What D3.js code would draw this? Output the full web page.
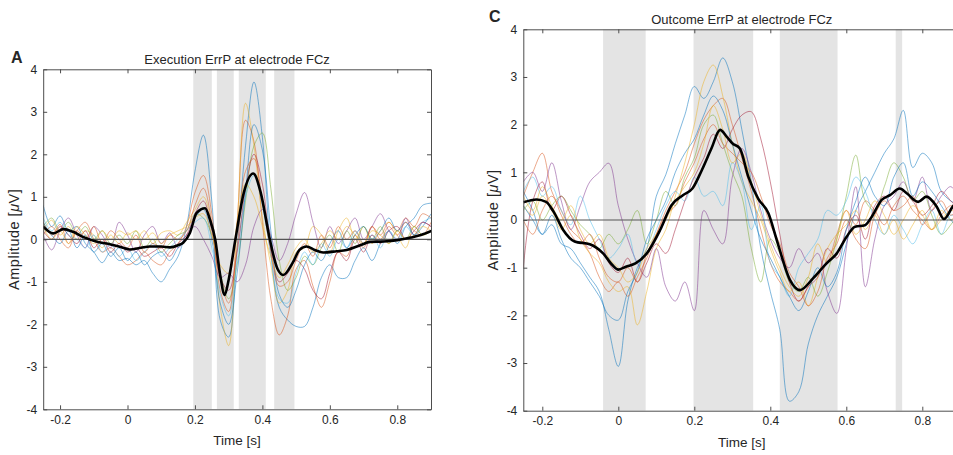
<!DOCTYPE html>
<html><head><meta charset="utf-8">
<script src="https://cdn.jsdelivr.net/npm/d3@7"></script>
<style>
body{margin:0;background:#fff}
svg{display:block}
text{font-family:"Liberation Sans",Arial,Helvetica,sans-serif;fill:#262626}
</style>
</head><body>
<svg id="chart" width="953" height="455"></svg>
<script>
// ---------------- DATA ----------------
const timeGrid = [-0.25,-0.225,-0.2,-0.175,-0.15,-0.125,-0.1,-0.075,-0.05,-0.025,
  0,0.025,0.05,0.075,0.1,0.125,0.15,0.175,0.2,0.225,
  0.25,0.275,0.3,0.325,0.35,0.375,0.4,0.425,0.45,0.475,
  0.5,0.525,0.55,0.575,0.6,0.625,0.65,0.675,0.7,0.725,
  0.75,0.775,0.8,0.825,0.85,0.875,0.9];

const xTickValues = [-0.2,0,0.2,0.4,0.6,0.8];
const xTickLabels = ["-0.2","0","0.2","0.4","0.6","0.8"];
const yTickValues = [-4,-3,-2,-1,0,1,2,3,4];
const yTickLabels = ["-4","-3","-2","-1","0","1","2","3","4"];

const subjectColors = ["#0072BD","#D95319","#EDB120","#7E2F8E","#77AC30","#4DBEEE","#A2142F","#0072BD","#D95319","#EDB120"];

const bandsA = [[0.195,0.25],[0.265,0.315],[0.33,0.41],[0.435,0.495]];
const bandsC = [[-0.04,0.072],[0.198,0.355],[0.425,0.577],[0.73,0.747]];

const meanATimes = [-0.25,-0.22,-0.19,-0.16,-0.13,-0.09,-0.05,-0.02,0.007,0.04,0.066,0.1,0.126,0.15,0.165,0.185,0.205,0.23,0.245,0.26,0.275,0.288,0.3,0.32,0.345,0.373,0.395,0.422,0.445,0.462,0.49,0.51,0.531,0.555,0.58,0.62,0.65,0.69,0.72,0.76,0.8,0.84,0.87,0.903];
const meanAValues = [0.30,0.14,0.24,0.17,0.05,-0.06,-0.12,-0.18,-0.24,-0.20,-0.17,-0.17,-0.19,-0.14,-0.08,0.15,0.62,0.73,0.45,0.0,-0.85,-1.31,-0.95,0.0,1.1,1.55,1.1,0.0,-0.7,-0.84,-0.55,-0.25,-0.17,-0.25,-0.31,-0.28,-0.25,-0.14,-0.06,-0.05,-0.02,0.04,0.1,0.2];

const meanCTimes = [-0.25,-0.215,-0.19,-0.17,-0.145,-0.115,-0.075,-0.04,-0.015,0.0,0.02,0.045,0.075,0.11,0.14,0.17,0.195,0.22,0.245,0.268,0.285,0.3,0.32,0.342,0.368,0.395,0.417,0.452,0.478,0.513,0.548,0.575,0.601,0.623,0.649,0.667,0.693,0.715,0.741,0.759,0.789,0.811,0.838,0.857,0.88,0.9];
const meanCValues = [0.37,0.43,0.38,0.17,-0.21,-0.45,-0.51,-0.70,-0.95,-1.04,-0.98,-0.91,-0.70,-0.21,0.31,0.52,0.66,1.05,1.5,1.89,1.75,1.61,1.50,0.91,0.45,0.14,-0.42,-1.26,-1.47,-1.22,-0.91,-0.70,-0.35,-0.14,-0.11,0.07,0.42,0.52,0.66,0.56,0.38,0.49,0.28,0.02,0.28,0.45];

const subjectsA = [
 [0.8,0.3,0.55,0.2,0.3,-0.1,-0.3,-0.55,-0.3,-0.5, -0.45,-0.6,-0.5,-0.8,-1.0,-0.7,-0.4,0.3,1.6,2.45, 0.9,-1.9,-2.3,-0.2,2.2,3.7,2.4,-0.3,-1.6,-1.9, -2.05,-2.05,-1.6,-0.9,-0.6,-0.9,-0.9,-0.5,-0.2,-0.5, -0.1,0.2,-0.1,0.3,0.5,0.8,0.85],
 [0.4,0.1,0.35,-0.1,0.2,0.4,0.0,-0.3,-0.2,-0.4, -0.6,-0.5,-0.3,-0.5,-0.6,-0.3,-0.1,0.3,1.1,1.5, 0.6,-1.2,-1.7,0.4,2.8,2.3,0.4,-1.4,-2.25,-1.8, -0.7,-0.5,-1.1,-1.6,-1.0,-0.3,-0.4,0.1,-0.2,0.3, 0.1,0.4,0.2,0.5,0.3,0.6,0.5],
 [0.2,0.45,0.1,0.3,0.0,0.2,0.1,-0.2,0.1,-0.1, 0.15,0.0,0.2,-0.1,0.15,0.2,0.1,0.4,0.7,1.0, 0.3,-1.6,-2.5,0.3,3.2,2.2,0.5,-0.6,-1.5,-1.2, -0.3,-0.2,0.3,0.1,-0.3,0.2,0.5,0.0,0.3,-0.1, 0.2,0.4,0.1,-0.2,0.3,0.1,0.2],
 [0.1,-0.25,0.2,0.5,0.1,-0.2,0.3,0.1,-0.2,0.4, 0.1,-0.3,0.1,0.3,-0.1,0.15,-0.2,0.1,0.3,0.0, -0.4,-0.9,-0.8,-1.0,-0.6,0.3,0.7,0.1,-0.5,-0.1, 0.6,1.1,0.4,-0.2,0.3,-0.1,0.2,0.5,0.0,0.3, 0.6,0.2,0.0,0.5,0.1,0.4,0.3],
 [0.3,0.5,0.2,0.4,0.1,0.3,0.0,0.2,-0.1,0.1, -0.1,0.2,-0.2,0.0,-0.3,-0.1,0.1,0.2,0.6,0.5, 0.1,-0.8,-1.4,-0.6,0.9,2.2,2.5,1.2,-0.5,-1.2, -0.9,-0.4,-0.6,-0.2,0.1,-0.3,0.2,-0.1,0.3,0.0, 0.3,-0.1,0.2,0.0,0.3,0.1,0.2],
 [0.5,0.2,0.4,0.1,0.0,-0.2,0.1,-0.3,-0.1,-0.4, -0.2,-0.5,-0.3,-0.1,-0.4,-0.2,0.0,0.2,0.4,0.5, -0.2,-1.3,-1.8,-0.5,1.0,1.5,0.8,-0.4,-1.4,-1.5, -0.8,-0.3,-0.6,-0.1,-0.4,0.0,-0.2,0.2,-0.1,0.1, -0.2,0.2,0.0,0.3,0.1,0.4,0.5],
 [0.2,0.0,0.3,0.1,-0.1,0.2,-0.2,0.0,-0.3,-0.1, -0.3,-0.2,-0.4,-0.3,-0.2,-0.4,-0.1,0.1,0.6,0.9, 0.2,-0.9,-1.2,-0.3,1.2,2.0,1.3,-0.2,-1.0,-0.8, -0.5,-0.7,-1.2,-1.4,-0.8,-0.3,-0.5,0.0,-0.3,0.1, -0.1,0.2,0.3,0.0,0.2,0.4,0.3],
 [0.4,0.1,-0.1,0.2,-0.2,0.1,-0.3,-0.1,-0.4,-0.2, -0.5,-0.3,-0.6,-0.4,-0.3,-0.5,-0.2,0.0,0.5,0.7, 0.0,-1.5,-2.0,-0.8,1.1,2.7,2.1,0.2,-1.3,-1.6, -1.2,-0.6,-0.3,-0.5,-0.1,0.2,-0.2,0.1,0.3,0.0, 0.2,0.5,0.2,0.4,0.1,0.3,0.6],
 [0.1,0.3,0.0,-0.2,0.2,0.0,0.3,-0.1,0.2,0.0, -0.2,0.1,-0.3,-0.1,-0.2,0.1,0.0,0.2,0.8,1.2, 0.4,-0.9,-1.5,-0.2,1.6,1.9,0.9,-0.3,-1.1,-1.0, -0.5,-0.1,-0.4,0.1,-0.2,0.3,0.0,0.2,-0.1,0.3, 0.0,0.3,0.1,0.4,0.2,0.1,0.4],
 [0.3,0.0,0.2,-0.1,0.3,0.1,-0.1,0.2,0.0,0.2, 0.1,0.2,0.0,0.15,-0.1,0.1,0.2,0.3,0.5,0.6, 0.1,-0.6,-0.8,0.4,1.3,1.0,0.3,-0.4,-0.9,-0.6, -0.2,0.0,-0.3,-0.1,0.2,0.0,0.3,0.1,-0.1,0.2, 0.1,-0.1,0.2,0.0,0.1,0.3,0.2]
];

const subjectsC = [
 [0.6,0.2,-0.3,-0.1,-0.5,-0.6,-0.9,-1.2,-1.5,-2.3, -3.07,-1.7,-1.0,-0.6,0.5,0.95,1.6,2.2,2.8,2.55, 2.9,3.4,2.9,1.9,0.8,-0.6,-1.5,-2.3,-3.8,-3.6, -2.6,-2.0,-1.6,-1.2,-0.5,0.2,0.6,1.0,1.4,1.7, 2.3,1.1,1.4,1.2,0.6,0.4,0.3],
 [0.5,1.0,1.4,0.6,0.2,-0.2,-0.4,-0.7,-1.2,-1.5, -1.3,-1.6,-1.2,-0.8,-0.3,0.2,0.6,1.0,1.6,2.1, 2.4,2.55,2.0,1.3,0.6,-0.2,-0.9,-1.3,-1.5,-1.7, -1.4,-1.1,-0.9,-0.3,0.2,-0.1,0.4,0.2,-0.1,0.3, 0.5,0.2,0.0,-0.2,0.1,0.3,0.2],
 [0.3,0.1,0.5,0.2,-0.2,0.1,-0.4,-0.7,-0.9,-1.3, -1.5,-1.4,-2.2,-1.5,-0.6,-0.2,0.5,1.2,2.0,2.9, 3.25,2.6,1.6,0.8,0.4,0.0,-0.6,-1.1,-1.5,-1.3, -1.8,-1.2,-0.6,-0.3,-0.1,0.2,-0.2,0.1,-0.3,0.0, -0.4,-0.1,0.2,-0.2,0.0,0.2,0.1],
 [0.8,1.0,0.6,1.2,0.4,-0.2,0.3,0.8,1.0,1.19, 0.3,-0.4,-0.9,-1.2,-0.6,-1.4,-1.7,-1.3,-1.9,0.2, -0.2,-0.5,0.9,1.5,1.0,0.2,-0.4,-0.8,-1.0,-0.6, -0.9,-0.7,-1.5,-1.96,-0.6,0.7,-1.4,-0.4,0.3,0.5, 0.8,0.4,0.9,0.2,0.5,0.7,0.4],
 [0.2,0.4,0.0,0.3,0.5,0.2,-0.1,-0.3,-0.6,-0.3, -0.5,-0.2,0.2,-0.5,0.0,0.6,0.3,0.9,1.3,2.0, 2.2,1.6,1.0,0.5,-0.6,-1.3,-0.4,-0.7,-1.3,-1.5, -1.2,-1.6,-1.1,-0.4,0.5,1.36,0.4,0.2,0.7,1.2, 0.9,0.4,0.6,0.1,-0.3,-0.1,0.2],
 [0.6,0.9,0.5,0.7,0.2,-0.1,0.5,0.0,-0.4,-0.8, -0.6,-0.3,-0.9,-0.7,-0.2,0.3,0.6,0.4,0.9,0.5, 0.6,0.3,1.2,0.8,-0.2,0.3,-0.9,-1.2,-1.6,-1.0, -0.7,-0.4,0.2,0.1,0.4,0.9,0.6,0.0,-0.3,0.1, -0.2,-0.5,-0.1,0.2,-0.3,0.1,0.0],
 [-1.0,0.4,0.8,0.2,0.5,0.1,-0.3,-0.6,-0.4,-0.9, -1.1,-0.8,-1.3,-0.9,-0.5,-0.7,-0.2,0.4,0.9,1.3, 1.8,1.5,1.9,2.2,2.27,1.7,0.8,-0.3,-1.3,-1.7, -1.4,-1.2,-0.6,-0.8,-0.2,0.1,-0.4,0.3,0.5,0.2, 0.6,0.4,0.1,0.3,0.6,0.4,0.2],
 [0.3,0.0,-0.3,0.1,-0.4,-0.8,-1.0,-1.3,-1.6,-2.0, -2.1,-1.5,-1.1,-0.4,0.0,0.4,1.0,1.4,1.7,2.2, 2.6,2.3,1.6,0.9,0.2,-0.4,-0.8,-1.2,-1.6,-1.9, -1.5,-1.0,-1.4,-1.1,-0.2,0.4,0.9,0.5,0.3,0.9, 1.2,0.5,0.8,0.6,0.3,0.0,-0.2],
 [0.0,-0.3,0.2,0.5,0.1,-0.3,-0.5,-0.3,-0.8,-1.2, -1.3,-1.0,-1.3,-0.7,-0.3,0.1,0.3,0.8,1.2,1.7, 2.0,1.6,1.4,1.2,1.0,0.5,-0.1,-0.5,-1.1,-1.4, -1.8,-1.5,-0.8,-0.5,0.0,-0.4,-0.6,0.1,0.4,0.2, 0.3,0.5,-0.1,0.2,0.4,0.1,0.3],
 [0.5,0.2,0.7,0.3,0.0,0.3,-0.2,-0.5,-0.3,-0.8, -1.0,-1.3,-1.1,-0.6,-0.3,0.0,0.4,0.7,1.0,1.6, 2.4,1.9,1.2,1.4,0.8,0.1,-0.5,-1.0,-1.4,-1.6, -1.2,-0.5,-0.9,-0.4,0.2,-0.3,0.0,0.4,0.1,-0.3, 0.0,0.3,0.1,-0.2,0.2,0.0,0.3]
];

// ---------------- DRAW ----------------
const svg = d3.select("#chart");
svg.append("rect").attr("width",953).attr("height",455).attr("fill","#fff");

const panels = [
  {id:"A", letter:"A", title:"Execution ErrP at electrode FCz", left:43.2, right:431, top:69.3, bottom:409.3,
   bands:bandsA, subjects:subjectsA, meanT:meanATimes, meanV:meanAValues, letterX:11, letterY:63, ylabX:19},
  {id:"C", letter:"C", title:"Outcome ErrP at electrode FCz", left:523.3, right:960.3, top:29.3, bottom:410.7,
   bands:bandsC, subjects:subjectsC, meanT:meanCTimes, meanV:meanCValues, letterX:489, letterY:22, ylabX:498}
];

const axisColor = "#4d4d4d";

panels.forEach(p => {
  const x = d3.scaleLinear().domain([-0.25,0.9]).range([p.left,p.right]);
  const y = d3.scaleLinear().domain([-4,4]).range([p.bottom,p.top]);
  const g = svg.append("g");

  svg.append("clipPath").attr("id","clip"+p.id).append("rect")
    .attr("x",p.left).attr("y",p.top).attr("width",p.right-p.left).attr("height",p.bottom-p.top);

  const plot = g.append("g").attr("clip-path","url(#clip"+p.id+")");

  plot.selectAll("rect.band").data(p.bands).join("rect").attr("class","band")
    .attr("x",d=>x(d[0])).attr("width",d=>x(d[1])-x(d[0]))
    .attr("y",p.top).attr("height",p.bottom-p.top).attr("fill","#e4e4e4");

  const lineS = d3.line().x((d,i)=>x(timeGrid[i])).y(d=>y(d)).curve(d3.curveCatmullRom.alpha(0.5));
  plot.selectAll("path.subj").data(p.subjects).join("path").attr("class","subj")
    .attr("d",lineS).attr("fill","none")
    .attr("stroke",(d,i)=>subjectColors[i]).attr("stroke-width",1).attr("stroke-opacity",0.5);

  plot.append("line").attr("x1",p.left).attr("x2",p.right).attr("y1",y(0)).attr("y2",y(0))
    .attr("stroke","#555").attr("stroke-width",1.2);

  const meanPts = p.meanT.map((t,i)=>[t,p.meanV[i]]);
  plot.append("path").datum(meanPts)
    .attr("d",d3.line().x(d=>x(d[0])).y(d=>y(d[1])).curve(d3.curveMonotoneX))
    .attr("fill","none").attr("stroke","#000").attr("stroke-width",2.6).attr("stroke-linejoin","round");

  const styleAxis = sel => {
    sel.select(".domain").attr("stroke",axisColor).attr("stroke-width",1);
    sel.selectAll(".tick line").attr("stroke",axisColor).attr("stroke-width",1);
    sel.selectAll(".tick text").attr("fill","#262626").style("font-size","12px")
      .style("font-family",'"Liberation Sans",Arial,sans-serif');
  };
  g.append("g").attr("transform",`translate(0,${p.bottom})`)
    .call(d3.axisBottom(x).tickValues(xTickValues).tickFormat((d,i)=>xTickLabels[i]).tickSizeInner(-4).tickSizeOuter(0).tickPadding(6))
    .call(styleAxis);
  g.append("g").attr("transform",`translate(0,${p.top})`)
    .call(d3.axisTop(x).tickValues(xTickValues).tickFormat("").tickSizeInner(-4).tickSizeOuter(0))
    .call(styleAxis);
  g.append("g").attr("transform",`translate(${p.left},0)`)
    .call(d3.axisLeft(y).tickValues(yTickValues).tickFormat((d,i)=>yTickLabels[i]).tickSizeInner(-4).tickSizeOuter(0).tickPadding(6))
    .call(styleAxis);
  g.append("g").attr("transform",`translate(${p.right},0)`)
    .call(d3.axisRight(y).tickValues(yTickValues).tickFormat("").tickSizeInner(-4).tickSizeOuter(0))
    .call(styleAxis);

  g.append("text").attr("x",(p.left+p.right)/2).attr("y",p.top-5)
    .attr("text-anchor","middle").style("font-size","13px").text(p.title);
  g.append("text").attr("x",p.letterX).attr("y",p.letterY)
    .style("font-size","16px").style("font-weight","bold").attr("fill","#000").text(p.letter);
  g.append("text").attr("x",(p.left+p.right)/2).attr("y",p.bottom+36)
    .attr("text-anchor","middle").style("font-size","13.5px").text("Time [s]");
  const yl = g.append("text").attr("transform",`translate(${p.ylabX},${(p.top+p.bottom)/2}) rotate(-90)`)
    .attr("text-anchor","middle").style("font-size","14.5px").style("letter-spacing","0.5px");
  yl.append("tspan").text("Amplitude [");
  yl.append("tspan").style("font-style","italic").text("\u03BC");
  yl.append("tspan").text("V]");
});
</script>
</body></html>
